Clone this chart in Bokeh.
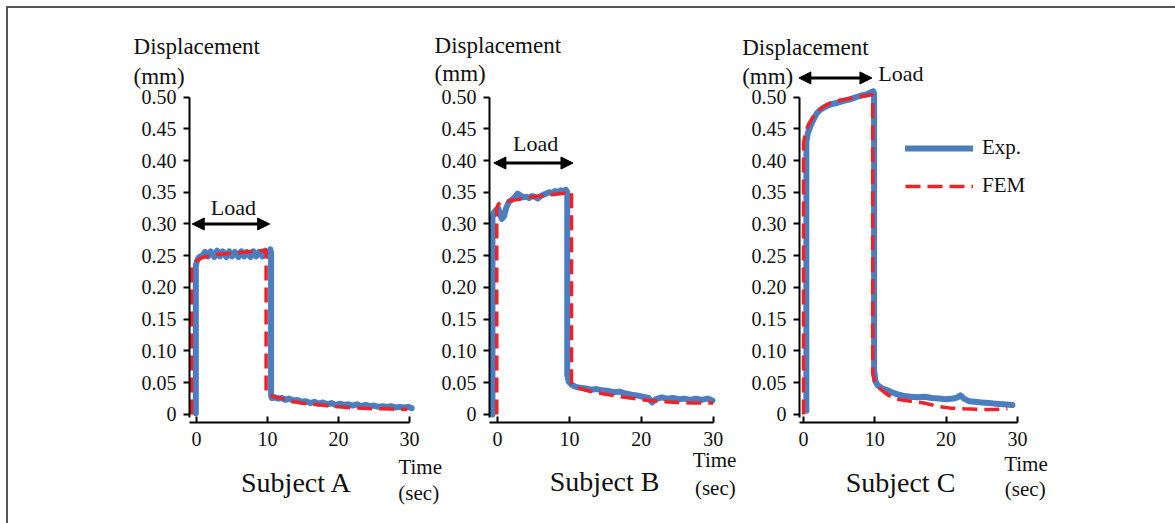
from bokeh.plotting import figure
from bokeh.models import Label, Arrow, NormalHead, FixedTicker, Legend, LegendItem, Range1d
from bokeh.layouts import row
from bokeh.embed import file_html
from bokeh.resources import INLINE

# ---------------- data ----------------
y_ticks = [0, 0.05, 0.10, 0.15, 0.20, 0.25, 0.30, 0.35, 0.40, 0.45, 0.50]
y_tick_labels = ["0", "0.05", "0.10", "0.15", "0.20", "0.25", "0.30", "0.35", "0.40", "0.45", "0.50"]
x_ticks = [0, 10, 20, 30]
x_tick_labels = ["0", "10", "20", "30"]
subjects = ["Subject A", "Subject B", "Subject C"]

# Subject A - experiment
a_exp_t = [-0.1, -0.1, 0.1, 0.4, 0.8, 1.2, 1.6, 2.0, 2.5, 2.9, 3.3, 3.7, 4.2, 4.6, 5.0, 5.4, 5.9, 6.3, 6.7,
           7.1, 7.6, 8.0, 8.4, 8.8, 9.3, 9.7, 10.1, 10.4, 10.5, 10.5, 10.6, 11.0, 11.5, 12.0, 12.5, 13.0,
           13.6, 14.2, 14.8, 15.4, 16.0, 16.6, 17.2, 17.8, 18.4, 19.0, 19.6, 20.2, 20.8, 21.4, 22.0, 22.6,
           23.2, 23.8, 24.4, 25.0, 25.6, 26.2, 26.8, 27.4, 28.0, 28.6, 29.2, 29.8, 30.3]
a_exp_v = [0.002, 0.235, 0.243, 0.248, 0.250, 0.256, 0.249, 0.257, 0.248, 0.258, 0.249, 0.257, 0.248, 0.257,
           0.249, 0.256, 0.248, 0.257, 0.249, 0.256, 0.248, 0.257, 0.249, 0.256, 0.249, 0.258, 0.250, 0.260,
           0.255, 0.030, 0.026, 0.027, 0.025, 0.026, 0.023, 0.025, 0.022, 0.023, 0.020, 0.021, 0.018, 0.020,
           0.017, 0.019, 0.016, 0.018, 0.015, 0.017, 0.015, 0.016, 0.014, 0.016, 0.013, 0.015, 0.013, 0.014,
           0.012, 0.013, 0.012, 0.013, 0.011, 0.012, 0.011, 0.012, 0.010]
# Subject A - FEM
a_fem_t = [-0.7, -0.7, -0.4, 0.0, 0.6, 1.5, 3.0, 5.0, 7.0, 9.0, 9.8, 9.8, 10.4, 12.0, 13.7, 15.5, 17.5,
           20.0, 22.0, 25.0, 27.5, 29.7]
a_fem_v = [0.0, 0.232, 0.238, 0.242, 0.246, 0.249, 0.252, 0.254, 0.256, 0.258, 0.259, 0.035, 0.030, 0.025,
           0.020, 0.017, 0.015, 0.012, 0.0105, 0.009, 0.0085, 0.008]

# Subject B - experiment
b_exp_t = [-0.7, -0.7, -0.5, -0.2, 0.1, 0.3, 0.6, 0.9, 1.2, 1.6, 2.0, 2.4, 2.8, 3.2, 3.6, 4.0, 4.4, 4.8, 5.2,
           5.6, 6.0, 6.4, 6.8, 7.2, 7.6, 8.0, 8.4, 8.8, 9.2, 9.5, 9.7, 9.7, 9.9, 10.3, 10.8, 11.5, 12.3, 13.0,
           13.8, 14.6, 15.4, 16.2, 17.0, 17.8, 18.6, 19.4, 20.2, 21.0, 21.5, 22.0, 22.8, 23.6, 24.4, 25.2, 26.0,
           26.8, 27.6, 28.4, 29.2, 29.9]
b_exp_v = [0.0, 0.310, 0.318, 0.322, 0.325, 0.318, 0.308, 0.312, 0.325, 0.335, 0.338, 0.342, 0.348, 0.345,
           0.342, 0.343, 0.341, 0.344, 0.343, 0.340, 0.344, 0.346, 0.348, 0.350, 0.349, 0.352, 0.350, 0.353,
           0.351, 0.354, 0.350, 0.062, 0.052, 0.047, 0.044, 0.042, 0.041, 0.039, 0.040, 0.038, 0.037, 0.035,
           0.036, 0.033, 0.031, 0.030, 0.028, 0.026, 0.019, 0.024, 0.027, 0.025, 0.026, 0.024, 0.025, 0.023,
           0.025, 0.023, 0.025, 0.022]
# Subject B - FEM
b_fem_t = [-0.1, -0.1, 0.1, 0.5, 1.5, 3.0, 4.5, 6.0, 7.5, 9.0, 10.3, 10.3, 11.0, 12.0, 13.5, 15.0, 17.0, 19.0,
           21.0, 23.0, 25.0, 27.0, 30.0]
b_fem_v = [0.0, 0.325, 0.331, 0.334, 0.336, 0.339, 0.342, 0.344, 0.346, 0.348, 0.350, 0.048, 0.043, 0.039,
           0.035, 0.032, 0.028, 0.025, 0.022, 0.020, 0.019, 0.018, 0.018]

# Subject C - experiment
c_exp_t = [0.4, 0.4, 0.6, 1.0, 1.5, 1.9, 2.5, 3.3, 4.0, 4.8, 5.6, 6.4, 7.2, 8.0, 8.8, 9.4, 9.8, 9.9, 9.9, 10.1,
           10.4, 11.0, 11.8, 12.6, 13.4, 14.2, 15.0, 16.0, 17.0, 18.0, 19.0, 20.0, 21.0, 21.6, 22.0, 22.5,
           23.2, 24.0, 25.0, 26.0, 27.0, 28.0, 29.3]
c_exp_v = [0.006, 0.430, 0.443, 0.455, 0.467, 0.475, 0.481, 0.486, 0.489, 0.491, 0.494, 0.496, 0.499, 0.502,
           0.504, 0.507, 0.509, 0.505, 0.070, 0.052, 0.046, 0.041, 0.038, 0.034, 0.031, 0.029, 0.028, 0.027,
           0.028, 0.026, 0.025, 0.024, 0.025, 0.027, 0.030, 0.025, 0.021, 0.020, 0.019, 0.018, 0.017, 0.016,
           0.015]
# Subject C - FEM
c_fem_t = [0.0, 0.0, 0.3, 0.75, 1.3, 1.9, 2.8, 3.8, 5.0, 6.1, 7.5, 9.4, 9.7, 9.7, 10.0, 10.8, 11.8, 13.1, 15.0,
           16.9, 18.8, 20.6, 22.5, 24.8, 26.8, 28.6]
c_fem_v = [0.0, 0.428, 0.445, 0.458, 0.468, 0.476, 0.485, 0.491, 0.495, 0.497, 0.500, 0.503, 0.504, 0.064,
           0.050, 0.040, 0.031, 0.024, 0.021, 0.018, 0.013, 0.010, 0.009, 0.008, 0.008, 0.009]

# ---------------- styles ----------------
FONT = "Liberation Serif"
BLUE = "#4a7ebf"
RED = "#ee2229"
Y0, Y1 = -0.1717, 0.6394      # vertical extent of each canvas
X_AXIS_AT = -0.0126            # where the time axis sits
H = 515


def make_panel(exp_t, exp_v, fem_t, fem_v, x0, x1, width, y_axis_at, name,
               name_xy, time_xy, sec_xy, disp_xy, mm_xy, arrow, load_xy, load_align):
    p = figure(width=width, height=H, min_border=0, title=None,
               x_range=Range1d(x0, x1), y_range=Range1d(Y0, Y1),
               output_backend="svg", toolbar_location=None)
    p.outline_line_color = None
    p.grid.visible = False
    p.background_fill_alpha = 0
    p.border_fill_alpha = 0

    blue = p.line(exp_t, exp_v, line_width=6, color=BLUE, line_join="round", line_cap="round")
    red = p.line(fem_t, fem_v, line_width=3.5, color=RED, line_dash="15 7")

    for ax in (p.xaxis[0], p.yaxis[0]):
        ax.axis_line_width = 2
        ax.axis_line_color = "black"
        ax.major_tick_line_width = 2
        ax.major_tick_line_color = "black"
        ax.minor_tick_line_color = None
        ax.major_label_text_font = FONT
        ax.major_label_text_font_size = "20px"
        ax.major_label_text_color = "#111111"

    p.yaxis.fixed_location = y_axis_at
    p.yaxis.ticker = FixedTicker(ticks=y_ticks)
    p.yaxis.major_label_overrides = {t: l for t, l in zip(y_ticks, y_tick_labels)}
    p.yaxis.major_tick_out = 6
    p.yaxis.major_tick_in = 0
    p.yaxis.major_label_standoff = 7
    p.yaxis.bounds = (-0.004, 0.5)

    p.xaxis.fixed_location = X_AXIS_AT
    p.xaxis.ticker = FixedTicker(ticks=x_ticks)
    p.xaxis.major_label_overrides = {t: l for t, l in zip(x_ticks, x_tick_labels)}
    p.xaxis.major_tick_out = 0
    p.xaxis.major_tick_in = 6
    p.xaxis.major_label_standoff = 10
    p.xaxis.bounds = (y_axis_at, 30)

    def lab(xy, text, size, align="left"):
        p.add_layout(Label(x=xy[0], y=xy[1], text=text, text_font=FONT, text_font_size=size,
                           text_align=align, text_baseline="middle", text_color="#111111"))

    lab(disp_xy, "Displacement", "23px")
    lab(mm_xy, "(mm)", "23px")
    lab(time_xy, "Time", "21px", "center")
    lab(sec_xy, "(sec)", "21px", "center")
    lab(name_xy, name, "28px", "center")
    lab(load_xy, "Load", "22px", load_align)

    p.add_layout(Arrow(start=NormalHead(size=12, fill_color="black", line_color="black"),
                       end=NormalHead(size=12, fill_color="black", line_color="black"),
                       x_start=arrow[0], x_end=arrow[1], y_start=arrow[2], y_end=arrow[2],
                       line_width=3, line_color="black"))
    return p, blue, red


pA, _, _ = make_panel(a_exp_t, a_exp_v, a_fem_t, a_fem_v, -26.48, 35.77, 442, -0.986, subjects[0],
                      (14.1, -0.107), (31.5, -0.083), (31.3, -0.124), (-8.87, 0.5795), (-8.87, 0.532),
                      (-0.6, 10.3, 0.300), (5.2, 0.3265), "center")
pB, _, _ = make_panel(b_exp_t, b_exp_v, b_fem_t, b_fem_v, -9.318, 33.797, 310, -1.113, subjects[1],
                      (14.9, -0.105), (30.2, -0.072), (30.3, -0.116), (-8.75, 0.581), (-8.75, 0.5375),
                      (-0.5, 10.5, 0.396), (5.3, 0.4266), "center")
pB.margin = (0, 0, 0, -20)
pC, blueC, redC = make_panel(c_exp_t, c_exp_v, c_fem_t, c_fem_v, -8.836, 52.17, 435, -0.561, subjects[2],
                             (13.6, -0.107), (31.2, -0.078), (31.1, -0.117), (-8.6, 0.578), (-8.6, 0.533),
                             (-0.65, 9.6, 0.530), (10.5, 0.5365), "left")

legend = Legend(items=[LegendItem(label="Exp.", renderers=[blueC]),
                       LegendItem(label="FEM", renderers=[redC])],
                location=(165, 325), glyph_width=68, glyph_height=20, label_height=20,
                label_standoff=9, spacing=13, padding=0, margin=0,
                label_text_font=FONT, label_text_font_size="21px", label_text_color="#111111",
                border_line_alpha=0, background_fill_alpha=0)
pC.add_layout(legend)

layout = row(pA, pB, pC, margin=(6, 0, 0, 6),
             styles={"border-top": "2px solid #555555", "border-left": "2px solid #555555"})

open("out.html", "w").write(file_html(layout, INLINE))
